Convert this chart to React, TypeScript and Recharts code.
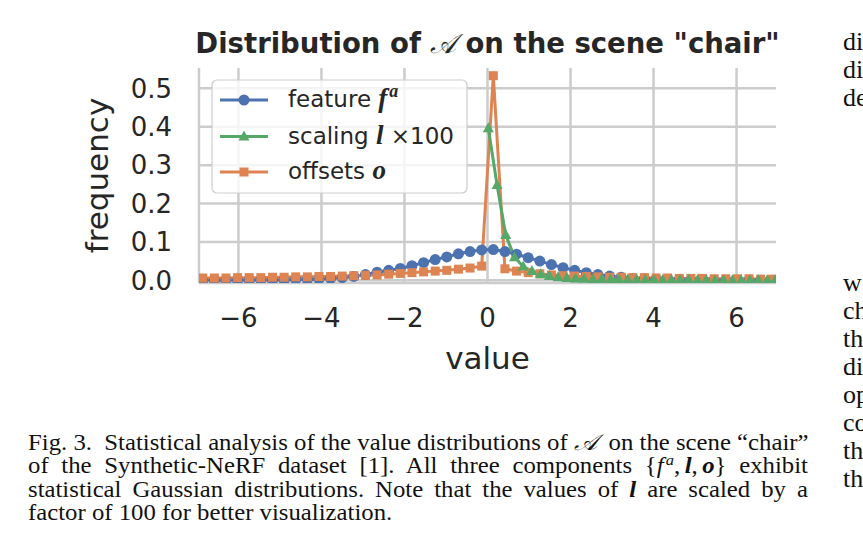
import React from "react";
import { CartesianGrid, Line, LineChart, XAxis, YAxis } from "recharts";

// histogram bin centres shared by the feature and offset series
const binCenters = [
  -6.86, -6.58, -6.3, -6.02, -5.74, -5.46, -5.18, -4.9, -4.62, -4.34,
  -4.06, -3.78, -3.5, -3.22, -2.94, -2.66, -2.38, -2.1, -1.82, -1.54,
  -1.26, -0.98, -0.7, -0.42, -0.14, 0.14, 0.42, 0.7, 0.98, 1.26,
  1.54, 1.82, 2.1, 2.38, 2.66, 2.94, 3.22, 3.5, 3.78, 4.06,
  4.34, 4.62, 4.9, 5.18, 5.46, 5.74, 6.02, 6.3, 6.58, 6.86,
];
const featureFreq = [
  0, 0, 0, 0, 0, 0.001, 0.001, 0.001, 0.002, 0.002,
  0.003, 0.005, 0.007, 0.01, 0.015, 0.021, 0.026, 0.031, 0.038, 0.046,
  0.054, 0.061, 0.069, 0.075, 0.079, 0.08, 0.075, 0.068, 0.059, 0.05,
  0.041, 0.033, 0.026, 0.02, 0.015, 0.011, 0.008, 0.005, 0.004, 0.003,
  0.002, 0.001, 0.001, 0.001, 0, 0, 0, 0, 0, 0,
];
const offsetFreq = [
  0.006, 0.006, 0.006, 0.007, 0.007, 0.007, 0.008, 0.008, 0.009, 0.009,
  0.01, 0.01, 0.011, 0.012, 0.013, 0.014, 0.016, 0.018, 0.02, 0.022,
  0.024, 0.026, 0.029, 0.032, 0.037, 0.533, 0.03, 0.024, 0.02, 0.017,
  0.014, 0.012, 0.011, 0.01, 0.009, 0.008, 0.008, 0.007, 0.007, 0.006,
  0.006, 0.005, 0.005, 0.005, 0.004, 0.004, 0.004, 0.004, 0.003, 0.003,
];
// scaling values (x100) are positive, with their own bins
const scalingCenters = [
  0.02, 0.23, 0.44, 0.65, 0.86, 1.07, 1.28, 1.49, 1.7, 1.91,
  2.12, 2.33, 2.54, 2.75, 2.96, 3.17, 3.38, 3.59, 3.8, 4.01,
  4.22, 4.43, 4.64, 4.85, 5.06, 5.27, 5.48, 5.69, 5.9, 6.11,
  6.32, 6.53, 6.74, 6.93,
];
const scalingFreq = [
  0.396, 0.248, 0.118, 0.06, 0.036, 0.024, 0.016, 0.011, 0.008, 0.006,
  0.005, 0.004, 0.003, 0.003, 0.002, 0.002, 0.002, 0.002, 0.001, 0.001,
  0.001, 0.001, 0.001, 0.001, 0.001, 0.001, 0, 0, 0, 0,
  0, 0, 0, 0,
];
const xTicks = [-6, -4, -2, 0, 2, 4, 6];
const yTicks = [0, 0.1, 0.2, 0.3, 0.4, 0.5];

// fragments of the neighbouring text column, cut by the page edge
const sideTop = ["di", "di", "de"];
const sideBottom = ["w", "ch", "th", "di", "op", "co", "th", "th"];

const BLUE = "#4c72b0";
const GREEN = "#55a868";
const ORANGE = "#dd8452";
const FRAME = "#cccccc";
const INK = "#262626";
const SANS = "DejaVu Sans";
const SERIF = "Liberation Serif";

const featureData = binCenters.map((x, i) => ({ x, y: featureFreq[i] }));
const offsetData = binCenters.map((x, i) => ({ x, y: offsetFreq[i] }));
const scalingData = scalingCenters.map((x, i) => ({ x, y: scalingFreq[i] }));

const fmtX = (v: number) => (v < 0 ? `\u2212${Math.abs(v)}` : `${v}`);

const circle = (p: any) => (
  <circle key={`c${p.index}`} cx={p.cx} cy={p.cy} r={5.5} fill={BLUE} />
);
const square = (p: any) => (
  <rect key={`s${p.index}`} x={p.cx - 4.5} y={p.cy - 4.5} width={9} height={9} fill={ORANGE} />
);
const triangle = (p: any) => (
  <path
    key={`t${p.index}`}
    d={`M${p.cx},${p.cy - 6} L${p.cx + 5.5},${p.cy + 4} L${p.cx - 5.5},${p.cy + 4} Z`}
    fill={GREEN}
  />
);

const axisLine = { stroke: FRAME, strokeWidth: 2.5 };
const tickStyle = { fill: INK, fontSize: 26, fontFamily: SANS };
const mathStyle = { fontFamily: SERIF, fontWeight: 700, fontStyle: "italic" as const };

function LegendRow({ y, color, shape, children }: any) {
  return (
    <g>
      <line x1={220} x2={268} y1={y} y2={y} stroke={color} strokeWidth={3} />
      {shape === "circle" && <circle cx={244} cy={y} r={5.5} fill={color} />}
      {shape === "square" && <rect x={239.5} y={y - 4.5} width={9} height={9} fill={color} />}
      {shape === "triangle" && (
        <path d={`M244,${y - 6} L249.5,${y + 4} L238.5,${y + 4} Z`} fill={color} />
      )}
      <text x={288} y={y + 7} fontFamily={SANS} fontSize={23} fill={INK}>
        {children}
      </text>
    </g>
  );
}

const capLine: React.CSSProperties = {
  height: 23.5,
  lineHeight: "23.5px",
  whiteSpace: "nowrap",
  textAlign: "justify",
  textAlignLast: "justify",
};
const bi: React.CSSProperties = { fontWeight: 700, fontStyle: "italic" };

export default function App() {
  return (
    <div style={{ position: "absolute", left: 0, top: 0, width: 863, height: 543, background: "#fff", overflow: "hidden" }}>
      <LineChart
        width={863}
        height={543}
        margin={{ top: 68, right: 87, bottom: 200, left: 0 }}
        style={{ position: "absolute", left: 0, top: 0 }}
      >
        <CartesianGrid stroke={FRAME} strokeWidth={2.5} horizontalValues={yTicks} verticalValues={xTicks} />
        <XAxis
          type="number"
          dataKey="x"
          domain={[-6.95, 6.95]}
          allowDataOverflow
          ticks={xTicks}
          tickFormatter={fmtX}
          axisLine={axisLine}
          tickLine={false}
          tickSize={0}
          tickMargin={26}
          height={60}
          tick={tickStyle}
        />
        <XAxis
          xAxisId="top"
          orientation="top"
          type="number"
          domain={[-6.95, 6.95]}
          allowDataOverflow
          tick={false}
          tickLine={false}
          axisLine={axisLine}
          height={0}
        />
        <YAxis
          type="number"
          domain={[-0.007, 0.553]}
          allowDataOverflow
          ticks={yTicks}
          tickFormatter={(v: number) => v.toFixed(1)}
          axisLine={axisLine}
          tickLine={false}
          tickSize={0}
          tickMargin={27}
          width={199}
          tick={tickStyle}
        />
        <YAxis
          yAxisId="right"
          orientation="right"
          type="number"
          domain={[-0.007, 0.553]}
          tick={false}
          tickLine={false}
          axisLine={axisLine}
          width={0}
        />
        <Line data={featureData} dataKey="y" name="feature" stroke={BLUE} strokeWidth={3} dot={circle} isAnimationActive={false} />
        <Line data={offsetData} dataKey="y" name="offsets" stroke={ORANGE} strokeWidth={3} dot={square} isAnimationActive={false} />
        <Line data={scalingData} dataKey="y" name="scaling" stroke={GREEN} strokeWidth={3} dot={triangle} isAnimationActive={false} />
      </LineChart>

      <svg width={863} height={543} style={{ position: "absolute", left: 0, top: 0, pointerEvents: "none" }}>
        <text x={487.5} y={53} textAnchor="middle" fontFamily={SANS} fontWeight={700} fontSize={27.5} fill={INK}>
          Distribution of <tspan fontFamily={SERIF} fontWeight={400} fontStyle="italic">𝒜</tspan>
          <tspan dx={9}>on the scene "chair"</tspan>
        </text>
        <text x={487.5} y={369} textAnchor="middle" fontFamily={SANS} fontSize={31} fill={INK}>
          value
        </text>
        <text
          x={108}
          y={175.5}
          textAnchor="middle"
          transform="rotate(-90 108 175.5)"
          fontFamily={SANS}
          fontSize={31}
          fill={INK}
        >
          frequency
        </text>

        <rect x={212} y={80} width={255} height={113} rx={5} fill="#fff" fillOpacity={0.8} stroke={FRAME} strokeWidth={1.2} />
        <LegendRow y={100} color={BLUE} shape="circle">
          feature <tspan {...mathStyle} fontSize={27}>f</tspan>
          <tspan {...mathStyle} fontSize={18} dy={-10} dx={2}>a</tspan>
        </LegendRow>
        <LegendRow y={136.5} color={GREEN} shape="triangle">
          scaling <tspan {...mathStyle} fontSize={27}>l</tspan> ×100
        </LegendRow>
        <LegendRow y={172} color={ORANGE} shape="square">
          offsets <tspan {...mathStyle} fontSize={27}>o</tspan>
        </LegendRow>

        <g fontFamily={SERIF} fontSize={26} fill="#111">
          {sideTop.map((s, i) => (
            <text key={`t${i}`} x={843} y={50 + i * 28}>{s}</text>
          ))}
          {sideBottom.map((s, i) => (
            <text key={`b${i}`} x={843} y={291 + i * 28}>{s}</text>
          ))}
        </g>
      </svg>

      <div
        style={{
          position: "absolute",
          left: 28,
          top: 430.5,
          width: 709,
          transform: "scaleX(1.1)",
          transformOrigin: "0 0",
          fontFamily: SERIF,
          fontSize: 22.5,
          color: "#111",
        }}
      >
        <div style={capLine}>
          Fig. 3.&nbsp; Statistical analysis of the value distributions of{" "}
          <i style={{ marginRight: 5 }}>𝒜</i> on the scene “chair”
        </div>
        <div style={capLine}>
          of the Synthetic-NeRF dataset [1]. All three components{" "}
          <span style={{ display: "inline-block", whiteSpace: "nowrap" }}>
            {"{"}
            <i>f</i>
            <span style={{ fontStyle: "italic", fontSize: 15, position: "relative", top: -8, marginLeft: 2 }}>a</span>,
            <span style={{ ...bi, marginLeft: 4 }}>l</span>,<span style={{ ...bi, marginLeft: 4 }}>o</span>
            {"}"}
          </span>{" "}
          exhibit
        </div>
        <div style={capLine}>
          statistical Gaussian distributions. Note that the values of <span style={bi}>l</span> are scaled by a
        </div>
        <div style={{ ...capLine, textAlignLast: "left" }}>factor of 100 for better visualization.</div>
      </div>
    </div>
  );
}
